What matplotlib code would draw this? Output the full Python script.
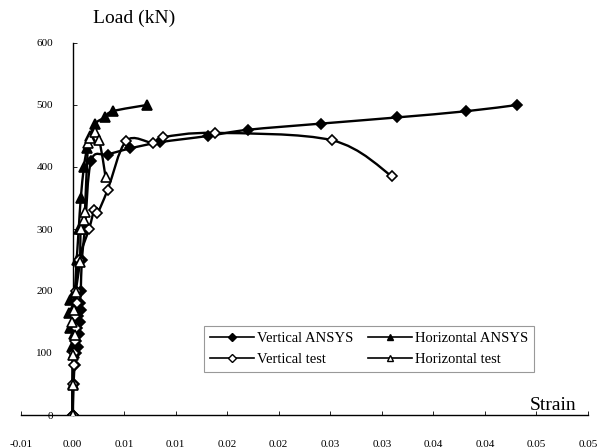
import numpy as np
import matplotlib
matplotlib.use("Agg")
from matplotlib import pyplot as plt
from matplotlib.path import Path
from matplotlib.patches import PathPatch
from matplotlib.lines import Line2D

plt.rcParams['font.family'] = ['Liberation Serif', 'DejaVu Serif']

# Vertical ANSYS (filled diamonds)
va_strain = [0.0, 0.0001, 0.0002, 0.0003, 0.0005, 0.0003, 0.0006, 0.0004, 0.0007, 0.0005,
             0.0008, 0.0007, 0.0008, 0.0009, 0.0012, 0.0018, 0.0034, 0.0056, 0.0085, 0.0131,
             0.0170, 0.0241, 0.0315, 0.0382, 0.0431]
va_load = [0, 50, 80, 100, 110, 120, 130, 140, 150, 160,
           170, 180, 200, 250, 300, 410, 420, 430, 440, 450,
           460, 470, 480, 490, 500]

# Horizontal ANSYS (filled triangles)
ha_strain = [0.0, 0.0, 0.0001, -0.0001, 0.0001, -0.0002, 0.0002, -0.0003, 0.0001, -0.0002,
             0.0002, 0.0004, 0.0006, 0.0008, 0.0011, 0.0014, 0.0017, 0.0022, 0.0031, 0.0039,
             0.0072]
ha_load = [0, 50, 100, 110, 130, 140, 150, 165, 175, 185,
           200, 250, 300, 350, 400, 430, 450, 470, 480, 490,
           500]

# Vertical test (open diamonds)
vt_strain = [0.0, 0.0, 0.0001, 0.0001, 0.0002, 0.0003, 0.0002, 0.0004, 0.0003, 0.0006,
             0.0016, 0.0021, 0.0024, 0.0034, 0.0052, 0.0078, 0.0088, 0.0138, 0.0252, 0.0310]
vt_load = [0, 50, 80, 100, 120, 140, 160, 180, 200, 250,
           300, 330, 325, 363, 442, 439, 448, 455, 443, 385]

# Horizontal test (open triangles)
ht_strain = [0.0, 0.0, 0.0, 0.0002, -0.0001, 0.0001, 0.0003, 0.0007, 0.0008, 0.0011,
             0.0012, 0.0015, 0.0017, 0.0022, 0.0026, 0.0032]
ht_load = [0, 48, 97, 129, 150, 169, 198, 247, 300, 315,
           327, 439, 447, 456, 444, 384]

x_ticks = np.arange(-0.005, 0.0501, 0.005)
x_tick_labels = ["-0.01", "0.00", "0.01", "0.01", "0.02", "0.02", "0.03", "0.03",
                 "0.04", "0.04", "0.05", "0.05"]
y_ticks = [0, 100, 200, 300, 400, 500, 600]


def smooth_path(x, y):
    # excel-like smoothed line: bezier segments through every point
    p = np.column_stack([x, y]).astype(float)
    n = len(p)
    verts = [p[0]]
    codes = [Path.MOVETO]
    for i in range(n - 1):
        p0 = p[i - 1] if i > 0 else p[i]
        p1 = p[i]
        p2 = p[i + 1]
        p3 = p[i + 2] if i + 2 < n else p[i + 1]
        c1 = p1 + (p2 - p0) / 6.
        c2 = p2 - (p3 - p1) / 6.
        verts += [c1, c2, p2]
        codes += [Path.CURVE4] * 3
    return Path(verts, codes)


fig = plt.figure(figsize=(5.97, 4.48), dpi=100)
ax = fig.add_axes([21 / 597, 33 / 448, 567 / 597, 372 / 448])

series = [
    (va_strain, va_load, 'D', 'black', 5.5, 'Vertical ANSYS'),
    (ha_strain, ha_load, '^', 'black', 7, 'Horizontal ANSYS'),
    (vt_strain, vt_load, 'D', 'white', 5.5, 'Vertical test'),
    (ht_strain, ht_load, '^', 'white', 7, 'Horizontal test'),
]

handles = []
for xs, ys, mk, fc, ms, lab in series:
    ax.add_patch(PathPatch(smooth_path(xs, ys), facecolor='none', edgecolor='black',
                           lw=1.7, zorder=2))
    ax.plot(xs, ys, ls='none', marker=mk, ms=ms, mfc=fc, mec='black', mew=1.2, zorder=3)
    handles.append(Line2D([], [], color='black', lw=1.2, marker=mk, ms=ms * 0.7,
                          mfc=fc, mec='black', mew=1.0, label=lab))

ax.set_xlim(-0.005, 0.05)
ax.set_ylim(0, 600)
ax.spines['left'].set_position(('data', 0))
ax.spines['top'].set_visible(False)
ax.spines['right'].set_visible(False)
ax.spines['left'].set_linewidth(1.0)
ax.spines['bottom'].set_linewidth(1.0)

ax.set_xticks(x_ticks)
ax.set_xticklabels(x_tick_labels)
ax.set_yticks(y_ticks)
ax.tick_params(axis='x', direction='in', length=3, width=0.6, pad=18, labelsize=8)
ax.tick_params(axis='y', direction='in', length=3, width=0.6, pad=14, labelsize=8)

ax.text(93 / 597, 1 - 18 / 448, 'Load (kN)', transform=fig.transFigure,
        fontsize=14, ha='left', va='center')
ax.text(530 / 597, 1 - 405 / 448, 'Strain', transform=fig.transFigure,
        fontsize=14, ha='left', va='center')

# column-wise fill: vertical series in the first column, horizontal in the second
leg = fig.legend(handles=[handles[0], handles[2], handles[1], handles[3]], ncol=2,
                 loc='center', bbox_to_anchor=(369 / 597, 1 - 349 / 448),
                 fontsize=10.5, frameon=True, fancybox=False, edgecolor='#808080',
                 handlelength=3.0, handletextpad=0.2, columnspacing=1.0,
                 labelspacing=0.5, borderpad=0.4, borderaxespad=0)
leg.get_frame().set_linewidth(0.8)

fig.savefig('out.png', dpi=100)
